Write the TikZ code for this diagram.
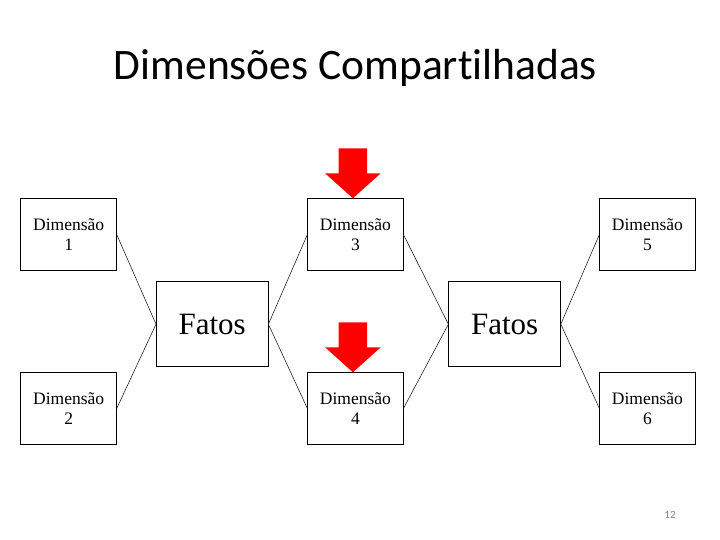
\documentclass[tikz,border=0pt]{standalone}
\usepackage{fontspec}
\setmainfont{Liberation Serif}
\newfontfamily\titlefont[Ligatures=NoCommon]{Carlito}
\usetikzlibrary{positioning}

\begin{document}
\begin{tikzpicture}[
  line width=0.5pt,
  dimbox/.style={
     draw=black,
     line width=0.8pt,
     fill=white,
     minimum width=96pt,
     minimum height=72.4pt,
     inner sep=0pt,
     outer sep=0pt,
     align=center,
     font=\fontsize{17.5}{20}\selectfont
  },
  factbox/.style={
     draw=black,
     line width=0.8pt,
     fill=white,
     minimum width=112.4pt,
     minimum height=85pt,
     inner sep=0pt,
     outer sep=0pt,
     font=\fontsize{31}{36}\selectfont
  },
  link/.style={draw=black!85, line width=0.6pt},
  hint/.style={fill=red}
]
\useasboundingbox (0,0) rectangle (720pt,-540pt);

\node[anchor=base, font=\titlefont\fontsize{43.5}{50}\selectfont] (title) at (355.5pt,-79.3pt) {Dimensões Compartilhadas};

\node[factbox] (fatos1) at (212.2pt,-324.2pt) {Fatos};

\node[dimbox, above left = 11pt and 39.3pt of fatos1] (dim1) {Dimensão\\1};
\node[dimbox, below left = 5.6pt and 39.3pt of fatos1] (dim2) {Dimensão\\2};

\node[dimbox, above right= 11pt and 39pt of fatos1] (dim3) {Dimensão\\3};
\node[dimbox, below right= 5.6pt and 39pt of fatos1] (dim4) {Dimensão\\4};

\node[factbox, below right= 11pt and 45pt of dim3] (fatos2) {Fatos};

\node[dimbox, above right= 11pt and 38.6pt of fatos2] (dim5) {Dimensão\\5};
\node[dimbox, below right= 5.6pt and 38.6pt of fatos2] (dim6) {Dimensão\\6};

\node[anchor=base, text=black!50, font=\titlefont\fontsize{11}{13}\selectfont] (page) at (670pt,-518.3pt) {12};

\draw[link] (dim1.east) -- (fatos1.west);
\draw[link] (dim2.east) -- (fatos1.west);
\draw[link] (fatos1.east) -- (dim3.west);
\draw[link] (fatos1.east) -- (dim4.west);

\draw[link] (dim3.east) -- (fatos2.west);
\draw[link] (dim4.east) -- (fatos2.west);
\draw[link] (fatos2.east) -- (dim5.west);
\draw[link] (fatos2.east) -- (dim6.west);

% red block arrows pointing down on the shared dimensions
\fill[hint, shift={(dim3.north)}, xshift=-2.5pt]
  (0,0) -- (-27.8pt,25pt) -- (-14.2pt,25pt) -- (-14.2pt,50pt) -- (14.2pt,50pt) -- (14.2pt,25pt) -- (27.8pt,25pt) -- cycle;
\fill[hint, shift={(dim4.north)}, xshift=-2.5pt]
  (0,0) -- (-27.8pt,25pt) -- (-14.2pt,25pt) -- (-14.2pt,50pt) -- (14.2pt,50pt) -- (14.2pt,25pt) -- (27.8pt,25pt) -- cycle;

\end{tikzpicture}
\end{document}
